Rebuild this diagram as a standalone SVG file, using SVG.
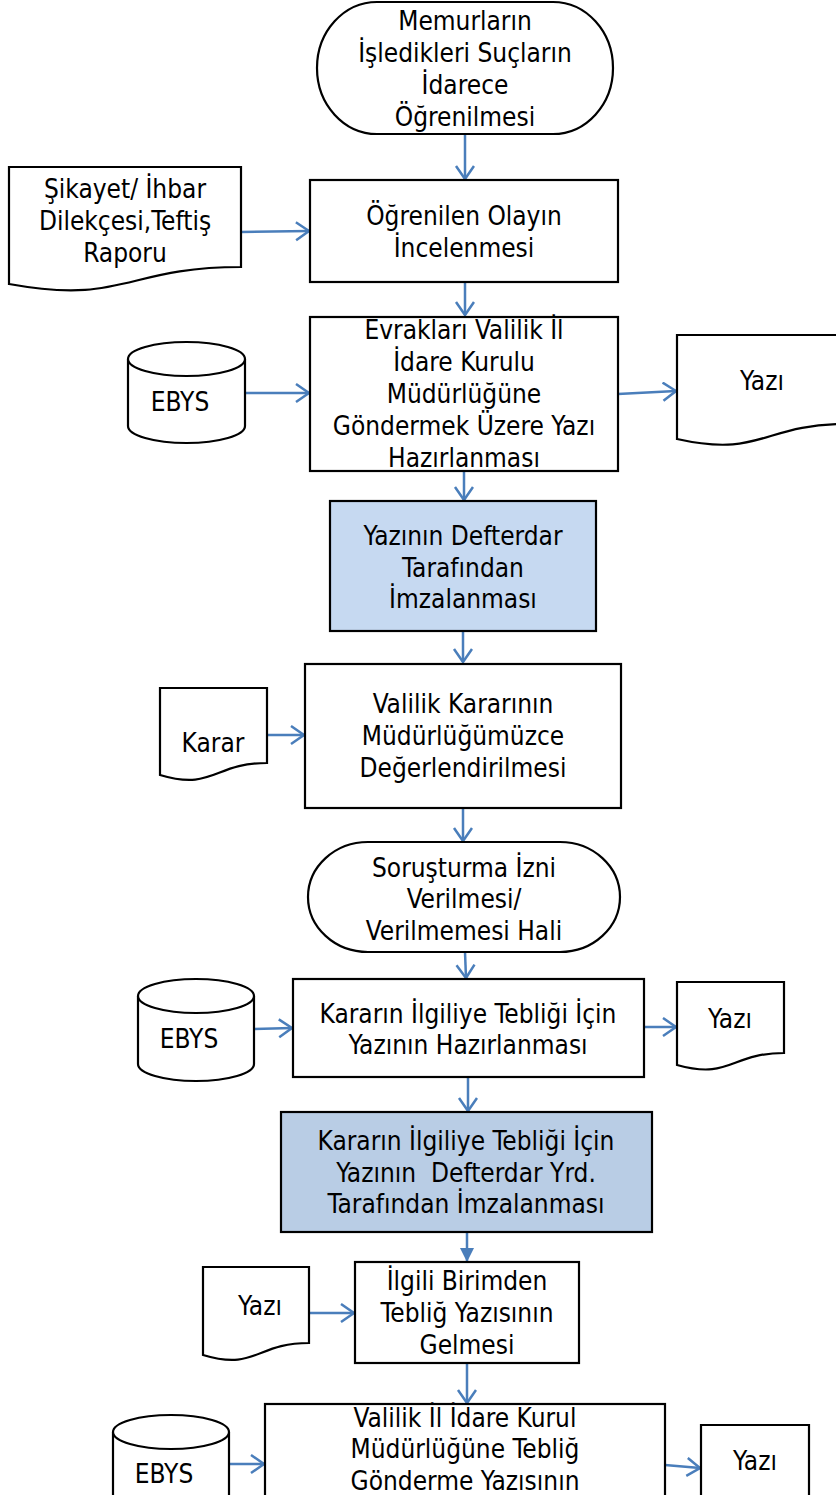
<svg xmlns="http://www.w3.org/2000/svg" width="836" height="1495" viewBox="0 0 836 1495">
<style>
.s{fill:#fff;stroke:#000;stroke-width:2.2}
.b1{fill:#C6D9F1;stroke:#000;stroke-width:2.2}
.b2{fill:#B9CDE5;stroke:#000;stroke-width:2.2}
text{font-family:"DejaVu Sans Condensed","DejaVu Sans","Liberation Sans",sans-serif;font-stretch:condensed;font-size:26px;fill:#000;text-anchor:middle}
.c{stroke:#4A7EBB;stroke-width:2.5;fill:none}
</style>
<defs>
<marker id="a" markerUnits="userSpaceOnUse" markerWidth="18" markerHeight="22" refX="14" refY="10" orient="auto">
<path d="M1,1 L14,10 L1,19" fill="none" stroke="#4A7EBB" stroke-width="2.5"/>
</marker>
<marker id="f" markerUnits="userSpaceOnUse" markerWidth="16" markerHeight="16" refX="14" refY="7" orient="auto">
<path d="M0,0 L14,7 L0,14 Z" fill="#4A7EBB"/>
</marker>
</defs>

<g id="connectors">
<path class="c" marker-end="url(#a)" d="M465,134 L465,179"/>
<path class="c" marker-end="url(#a)" d="M241,232 L309,231"/>
<path class="c" marker-end="url(#a)" d="M465,282 L465,315"/>
<path class="c" marker-end="url(#a)" d="M245,393 L309,393"/>
<path class="c" marker-end="url(#a)" d="M618,394 L676,391"/>
<path class="c" marker-end="url(#a)" d="M464,471 L464,500"/>
<path class="c" marker-end="url(#a)" d="M463,631 L463,662"/>
<path class="c" marker-end="url(#a)" d="M267,735 L304,735"/>
<path class="c" marker-end="url(#a)" d="M463,808 L463,841"/>
<path class="c" marker-end="url(#a)" d="M465,952 L466,978"/>
<path class="c" marker-end="url(#a)" d="M254,1029 L292,1028"/>
<path class="c" marker-end="url(#a)" d="M644,1027 L676,1027"/>
<path class="c" marker-end="url(#a)" d="M468,1077 L468,1111"/>
<path class="c" marker-end="url(#f)" d="M467,1232 L467,1262"/>
<path class="c" marker-end="url(#a)" d="M309,1313 L354,1313"/>
<path class="c" marker-end="url(#a)" d="M467,1363 L467,1403"/>
<path class="c" marker-end="url(#a)" d="M229,1464 L264,1464"/>
<path class="c" marker-end="url(#a)" d="M665,1465 L700,1468"/>
</g>

<g id="n1">
<rect class="s" x="317" y="2" width="296" height="132" rx="60" ry="66"/>
<text x="465" y="30">Memurların</text>
<text x="465" y="62">İşledikleri Suçların</text>
<text x="465" y="94">İdarece</text>
<text x="465" y="126">Öğrenilmesi</text>
</g>

<g id="n2">
<rect class="s" x="310" y="180" width="308" height="102"/>
<text x="464" y="225">Öğrenilen Olayın</text>
<text x="464" y="257">İncelenmesi</text>
</g>

<g id="d1">
<path class="s" d="M9,167 H241 V267 C125,267 125,305 9,284 Z"/>
<text x="125" y="198">Şikayet/ İhbar</text>
<text x="125" y="230">Dilekçesi,Teftiş</text>
<text x="125" y="262">Raporu</text>
</g>

<g id="n3">
<rect class="s" x="310" y="317" width="308" height="154"/>
<text x="464" y="339">Evrakları Valilik İl</text>
<text x="464" y="371">İdare Kurulu</text>
<text x="464" y="403">Müdürlüğüne</text>
<text x="464" y="435">Göndermek Üzere Yazı</text>
<text x="464" y="467">Hazırlanması</text>
</g>

<g id="db1">
<path class="s" d="M128,359 V426 A58.5,17 0 0 0 245,426 V359"/>
<ellipse class="s" cx="186.5" cy="359" rx="58.5" ry="17"/>
<text x="180" y="411">EBYS</text>
</g>

<g id="d2">
<path class="s" d="M677,335 H847 V424 C762,424 762,458 677,439 Z"/>
<text x="762" y="390">Yazı</text>
</g>

<g id="n4">
<rect class="b1" x="330" y="501" width="266" height="130"/>
<text x="463" y="545">Yazının Defterdar</text>
<text x="463" y="577">Tarafından</text>
<text x="463" y="608">İmzalanması</text>
</g>

<g id="n5">
<rect class="s" x="305" y="664" width="316" height="144"/>
<text x="463" y="713">Valilik Kararının</text>
<text x="463" y="745">Müdürlüğümüzce</text>
<text x="463" y="777">Değerlendirilmesi</text>
</g>

<g id="d3">
<path class="s" d="M160,688 H267 V763 C213.5,763 213.5,791 160,775 Z"/>
<text x="213" y="752">Karar</text>
</g>

<g id="n6">
<rect class="s" x="308" y="842" width="312" height="110" rx="60" ry="55"/>
<text x="464" y="877">Soruşturma İzni</text>
<text x="464" y="908">Verilmesi/</text>
<text x="464" y="940">Verilmemesi Hali</text>
</g>

<g id="n7">
<rect class="s" x="293" y="979" width="351" height="98"/>
<text x="468" y="1023">Kararın İlgiliye Tebliği İçin</text>
<text x="468" y="1054">Yazının Hazırlanması</text>
</g>

<g id="db2">
<path class="s" d="M138,996 V1064 A58,17 0 0 0 254,1064 V996"/>
<ellipse class="s" cx="196" cy="996" rx="58" ry="17"/>
<text x="189" y="1048">EBYS</text>
</g>

<g id="d4">
<path class="s" d="M677,982 H784 V1053 C730.5,1053 730.5,1080 677,1065 Z"/>
<text x="730" y="1028">Yazı</text>
</g>

<g id="n8">
<rect class="b2" x="281" y="1112" width="371" height="120"/>
<text x="466" y="1150">Kararın İlgiliye Tebliği İçin</text>
<text x="466" y="1182" xml:space="preserve">Yazının  Defterdar Yrd.</text>
<text x="466" y="1213">Tarafından İmzalanması</text>
</g>

<g id="n9">
<rect class="s" x="355" y="1262" width="224" height="101"/>
<text x="467" y="1290">İlgili Birimden</text>
<text x="467" y="1322">Tebliğ Yazısının</text>
<text x="467" y="1354">Gelmesi</text>
</g>

<g id="d5">
<path class="s" d="M203,1267 H309 V1343 C256,1343 256,1371 203,1355 Z"/>
<text x="260" y="1315">Yazı</text>
</g>

<g id="n10">
<rect class="s" x="265" y="1404" width="400" height="110"/>
<text x="465" y="1427">Valilik İl İdare Kurul</text>
<text x="465" y="1458">Müdürlüğüne Tebliğ</text>
<text x="465" y="1490">Gönderme Yazısının</text>
</g>

<g id="db3">
<path class="s" d="M113,1432 V1510 A58,17 0 0 0 229,1510 V1432"/>
<ellipse class="s" cx="171" cy="1432" rx="58" ry="17"/>
<text x="164" y="1483">EBYS</text>
</g>

<g id="d6">
<path class="s" d="M701,1425 H809 V1505 C755,1505 755,1535 701,1518 Z"/>
<text x="755" y="1470">Yazı</text>
</g>
</svg>
